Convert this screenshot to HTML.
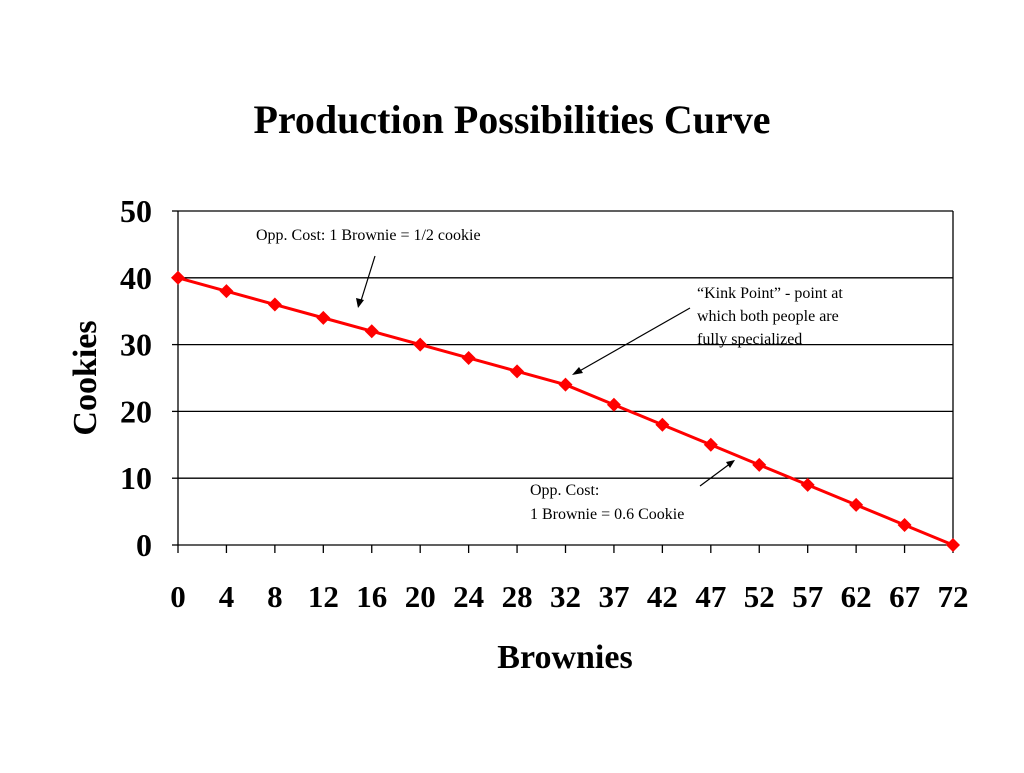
<!DOCTYPE html>
<html><head><meta charset="utf-8"><style>
body{margin:0;background:#fff;width:1024px;height:768px;overflow:hidden}
svg{font-family:"Liberation Serif",serif}
</style></head><body>
<svg id="chart" width="1024" height="768" xmlns="http://www.w3.org/2000/svg">
<text x="512" y="133" text-anchor="middle" font-size="40" font-weight="bold">Production Possibilities Curve</text>
<g id="grid"></g><g id="axes"></g><g id="series"></g>
<text transform="translate(96,378) rotate(-90)" text-anchor="middle" font-size="34" font-weight="bold">Cookies</text>
<text x="565" y="668" text-anchor="middle" font-size="34" font-weight="bold">Brownies</text>
<g font-size="16">
<text x="256" y="240">Opp. Cost:  1 Brownie = 1/2 cookie</text>
<line x1="375" y1="256" x2="360" y2="304" stroke="#000" stroke-width="1.2"/>
<polygon points="358,308 356,298 364,300" fill="#000"/>
</g>
<g font-size="16">
<text x="697" y="298">“Kink Point” - point at</text>
<text x="697" y="321">which both people are</text>
<text x="697" y="344">fully specialized</text>
<line x1="690" y1="308" x2="576" y2="373" stroke="#000" stroke-width="1.2"/>
<polygon points="572,375 579,367 583,373" fill="#000"/>
</g>
<g font-size="16">
<text x="530" y="495">Opp. Cost:</text>
<text x="530" y="519">1 Brownie = 0.6 Cookie</text>
<line x1="700" y1="486" x2="731" y2="463" stroke="#000" stroke-width="1.2"/>
<polygon points="735,460 726,462 730,468" fill="#000"/>
</g>
</svg>
<script>
const categories=["0","4","8","12","16","20","24","28","32","37","42","47","52","57","62","67","72"];
const cookies=[40,38,36,34,32,30,28,26,24,21,18,15,12,9,6,3,0];
const yTicks=[0,10,20,30,40,50];
const NS="http://www.w3.org/2000/svg";
const L=178,R=953,T=211,B=545,yMax=50;
const xs=i=>L+i*(R-L)/(categories.length-1);
const ys=v=>B-v*(B-T)/yMax;
function mk(tag,attrs,parent){const e=document.createElementNS(NS,tag);for(const k in attrs)e.setAttribute(k,attrs[k]);parent.appendChild(e);return e;}
const grid=document.getElementById('grid'),axes=document.getElementById('axes'),series=document.getElementById('series');
yTicks.forEach(v=>{
 if(v>0){const g=mk('line',{x1:L,x2:R,y1:ys(v),y2:ys(v),stroke:'#000','stroke-width':1.3},grid);
 
 }
 const tk=mk('line',{x1:L-6,x2:L,y1:ys(v),y2:ys(v),stroke:'#000','stroke-width':1.3},axes);
 
 
 const t=mk('text',{x:152,y:ys(v)+11,'text-anchor':'end','font-size':32,'font-weight':'bold'},axes);
 t.textContent=v;
 
 
});
const rb=mk('line',{x1:R,x2:R,y1:T,y2:B,stroke:'#000','stroke-width':1.3},axes);


const ya=mk('line',{x1:L,x2:L,y1:T,y2:B,stroke:'#000','stroke-width':1.3},axes);


const xa=mk('line',{x1:L,x2:R,y1:B,y2:B,stroke:'#000','stroke-width':1.3},axes);


categories.forEach((c,i)=>{
 const tk=mk('line',{x1:xs(i),x2:xs(i),y1:B,y2:B+8,stroke:'#000','stroke-width':1.3},axes);
 
 
 const t=mk('text',{x:xs(i),y:607,'text-anchor':'middle','font-size':31,'font-weight':'bold'},axes);
 t.textContent=c;
 
 
});
const line=mk('polyline',{points:cookies.map((v,i)=>xs(i)+','+ys(v)).join(' '),fill:'none',stroke:'#f00','stroke-width':3},series);


cookies.forEach((v,i)=>{
 const x=xs(i),y=ys(v),s=7;
 const p=mk('polygon',{points:`${x},${y-s} ${x+s},${y} ${x},${y+s} ${x-s},${y}`,fill:'#f00'},series);
 
 
});
</script>
</body></html>
